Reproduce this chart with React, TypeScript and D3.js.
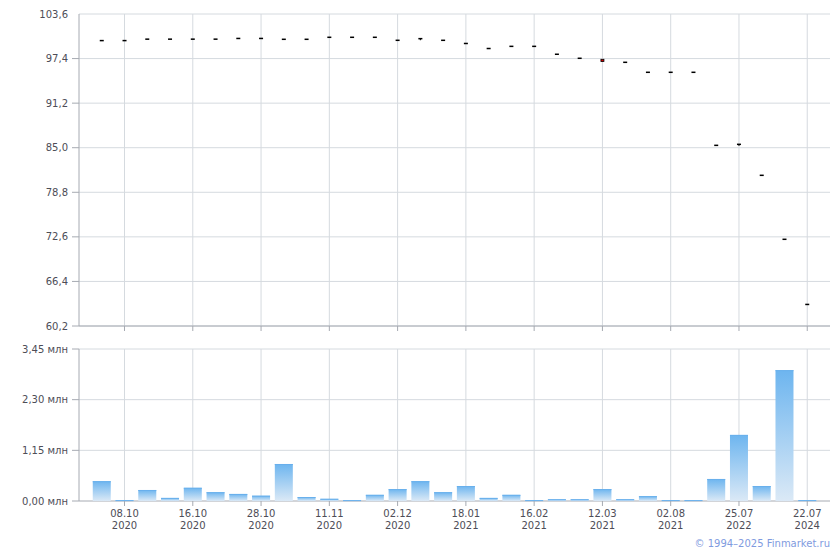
import React from "react";
import * as d3 from "d3";

const dateLabels = ["", "08.10", "", "", "16.10", "", "", "28.10", "", "", "11.11", "", "", "02.12", "", "", "18.01", "", "", "16.02", "", "", "12.03", "", "", "02.08", "", "", "25.07", "", "", "22.07"];
const yearLabels = ["", "2020", "", "", "2020", "", "", "2020", "", "", "2020", "", "", "2020", "", "", "2021", "", "", "2021", "", "", "2021", "", "", "2021", "", "", "2022", "", "", "2024"];

const openPrices = [99.9, 99.9, 100.1, 100.1, 100.1, 100.1, 100.2, 100.2, 100.08, 100.08, 100.36, 100.36, 100.36, 99.94, 100.17, 99.94, 99.5, 98.8, 99.1, 99.1, 98.0, 97.44, 97.3, 96.88, 95.49, 95.49, 95.49, 85.33, 85.47, 81.16, 72.26, 63.2];
const closePrices = [99.9, 99.9, 100.1, 100.1, 100.1, 100.1, 100.2, 100.2, 100.08, 100.08, 100.36, 100.36, 100.36, 99.94, 100.17, 99.94, 99.5, 98.8, 99.1, 99.1, 98.0, 97.44, 96.98, 96.88, 95.49, 95.49, 95.49, 85.33, 85.47, 81.16, 72.26, 63.2];
const highPrices = [99.9, 99.9, 100.1, 100.1, 100.1, 100.1, 100.2, 100.2, 100.08, 100.08, 100.36, 100.36, 100.36, 99.94, 100.17, 99.94, 99.5, 98.8, 99.1, 99.1, 98.0, 97.44, 97.3, 96.88, 95.49, 95.49, 95.49, 85.33, 85.47, 81.16, 72.26, 63.2];
const lowPrices = [99.9, 99.9, 100.1, 100.1, 100.1, 100.1, 100.2, 100.2, 100.08, 100.08, 100.36, 100.36, 100.36, 99.94, 99.95, 99.94, 99.5, 98.8, 99.1, 99.1, 98.0, 97.44, 96.98, 96.88, 95.49, 95.49, 95.49, 85.33, 85.25, 81.16, 72.26, 63.2];
const volumes = [0.45, 0.02, 0.25, 0.07, 0.3, 0.2, 0.16, 0.12, 0.84, 0.09, 0.05, 0.02, 0.14, 0.27, 0.45, 0.2, 0.34, 0.07, 0.14, 0.02, 0.04, 0.04, 0.27, 0.04, 0.11, 0.02, 0.02, 0.5, 1.5, 0.34, 2.97, 0.02];

const priceTicks = [60.2, 66.4, 72.6, 78.8, 85.0, 91.2, 97.4, 103.6];
const volumeTicks = [0, 1.15, 2.3, 3.45];

const FONT = "'DejaVu Sans', Verdana, sans-serif";
const TEXT = "#4d4d57";
const GRID = "#d5dadf";
const AXIS = "#a6aab2";

export default function App() {
  const left = 79;
  const right = 830;
  const x = d3.scalePoint<number>().domain(d3.range(volumes.length)).range([left, right]).padding(1);
  const yP = d3.scaleLinear().domain([60.2, 103.6]).range([326, 14]);
  const yV = d3.scaleLinear().domain([0, 3.45]).range([501, 349]);
  const tickIdx = d3.range(volumes.length).filter((i) => dateLabels[i] !== "");
  const fmtP = (v: number) => v.toFixed(1).replace(".", ",");
  const fmtV = (v: number) => v.toFixed(2).replace(".", ",") + " млн";
  const barW = 18;

  return (
    <svg width={840} height={550} style={{ position: "absolute", left: 0, top: 0, background: "#fff" }} fontFamily={FONT}>
      <defs>
        <linearGradient id="volGrad" x1="0" y1="0" x2="0" y2="1">
          <stop offset="0%" stopColor="#6db5ef" />
          <stop offset="100%" stopColor="#dbe9f6" />
        </linearGradient>
      </defs>

      {/* price panel grid */}
      {priceTicks.map((t) => (
        <line key={"pg" + t} x1={left} x2={right} y1={yP(t)} y2={yP(t)} stroke={GRID} strokeWidth={1} />
      ))}
      {tickIdx.map((i) => (
        <line key={"pv" + i} x1={x(i)} x2={x(i)} y1={yP(103.6)} y2={yP(60.2)} stroke={GRID} strokeWidth={1} />
      ))}
      {/* volume panel grid */}
      {volumeTicks.filter((t) => t > 0).map((t) => (
        <line key={"vg" + t} x1={left} x2={right} y1={yV(t)} y2={yV(t)} stroke={GRID} strokeWidth={1} />
      ))}
      {tickIdx.map((i) => (
        <line key={"vv" + i} x1={x(i)} x2={x(i)} y1={yV(3.45)} y2={yV(0)} stroke={GRID} strokeWidth={1} />
      ))}

      {/* axes */}
      <line x1={left} x2={left} y1={yP(103.6)} y2={yP(60.2)} stroke={AXIS} />
      <line x1={left} x2={right} y1={yP(60.2)} y2={yP(60.2)} stroke={AXIS} />
      <line x1={left} x2={left} y1={yV(3.45)} y2={yV(0)} stroke={AXIS} />
      <line x1={left} x2={right} y1={yV(0)} y2={yV(0)} stroke={AXIS} />

      {priceTicks.map((t, k) => (
        <g key={"pt" + t}>
          {k < priceTicks.length - 1 && <line x1={left - 7} x2={left} y1={yP(t)} y2={yP(t)} stroke={AXIS} />}
          <text x={68} y={yP(t)} dy="0.35em" textAnchor="end" fontSize={10} fill={TEXT}>{fmtP(t)}</text>
        </g>
      ))}
      {volumeTicks.map((t) => (
        <g key={"vt" + t}>
          <line x1={left - 7} x2={left} y1={yV(t)} y2={yV(t)} stroke={AXIS} />
          <text x={68} y={yV(t)} dy="0.35em" textAnchor="end" fontSize={10} fill={TEXT}>{fmtV(t)}</text>
        </g>
      ))}
      {tickIdx.map((i) => (
        <g key={"xt" + i}>
          <line x1={x(i)} x2={x(i)} y1={yP(60.2)} y2={yP(60.2) + 5} stroke={AXIS} />
          <line x1={x(i)} x2={x(i)} y1={yV(0)} y2={yV(0) + 5} stroke={AXIS} />
          <text x={x(i)} y={517} textAnchor="middle" fontSize={10} fill={TEXT}>{dateLabels[i]}</text>
          <text x={x(i)} y={529} textAnchor="middle" fontSize={10} fill={TEXT}>{yearLabels[i]}</text>
        </g>
      ))}

      {/* volume bars */}
      {volumes.map((v, i) => (
        <g key={"b" + i}>
          <rect x={(x(i) as number) - barW / 2} y={yV(v)} width={barW} height={yV(0) - yV(v)} fill="url(#volGrad)" />
          <line x1={(x(i) as number) - barW / 2} x2={(x(i) as number) + barW / 2} y1={yV(v) + 0.5} y2={yV(v) + 0.5} stroke="#69b0ec" />
        </g>
      ))}

      {/* candles */}
      {openPrices.map((o, i) => {
        const c = closePrices[i];
        const cx = x(i) as number;
        const top = Math.min(yP(o), yP(c));
        const bot = Math.max(yP(o), yP(c));
        const hasBody = bot - top > 1;
        return (
          <g key={"c" + i}>
            {(highPrices[i] > Math.max(o, c) || lowPrices[i] < Math.min(o, c)) && (
              <line x1={cx} x2={cx} y1={yP(highPrices[i])} y2={yP(lowPrices[i])} stroke="#000" strokeWidth={1} />
            )}
            {hasBody ? (
              <rect x={cx - 1.5} y={top} width={3} height={bot - top} fill={c < o ? "#d00000" : "#fff"} stroke="#000" strokeWidth={0.8} />
            ) : (
              <rect x={cx - 2} y={top - 0.75} width={4} height={1.5} fill="#000" />
            )}
          </g>
        );
      })}

      <text x={830} y={547} textAnchor="end" fontSize={10} fill="#7f9be0">© 1994–2025 Finmarket.ru</text>
    </svg>
  );
}
